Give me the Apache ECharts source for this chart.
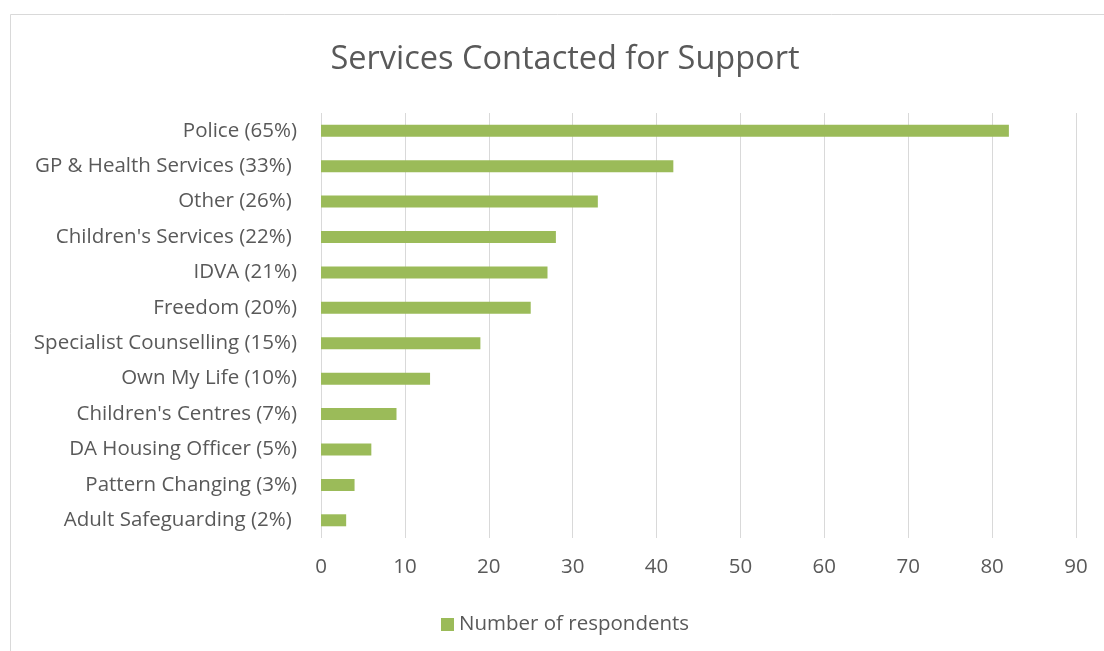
<!DOCTYPE html>
<html>
<head>
<meta charset="utf-8">
<script src="https://cdn.jsdelivr.net/npm/echarts@6/dist/echarts.min.js"></script>
<style>
  html, body { margin: 0; padding: 0; background: #ffffff; }
  #chart { width: 1104px; height: 651px; }
</style>
</head>
<body>
<div id="chart"></div>
<script>
// Services contacted, top to bottom (trailing spaces kept as in the source labels)
const categories = [
  'Police (65%)',
  'GP & Health Services (33%) ',
  'Other (26%) ',
  "Children's Services (22%) ",
  'IDVA (21%)',
  'Freedom (20%)',
  'Specialist Counselling (15%)',
  'Own My Life (10%)',
  "Children's Centres (7%)",
  'DA Housing Officer (5%)',
  'Pattern Changing (3%)',
  'Adult Safeguarding (2%) '
];
const respondents = [82, 42, 33, 28, 27, 25, 19, 13, 9, 6, 4, 3];
const seriesName = 'Number of respondents';
const xTicks = { min: 0, max: 90, interval: 10 };

const textColor = '#595959';
const gridColor = '#d9d9d9';
const fontFamily = '"Open Sans", "DejaVu Sans", sans-serif';
const labelSize = 20.5;

const chart = echarts.init(document.getElementById('chart'));
chart.setOption({
  backgroundColor: '#ffffff',
  animation: false,
  textStyle: { fontFamily: fontFamily },
  graphic: [{
    type: 'rect',
    shape: { x: 10.5, y: 14.5, width: 1200, height: 700 },
    style: { fill: 'none', stroke: gridColor, lineWidth: 1 },
    silent: true
  }],
  title: {
    text: 'Services Contacted for Support',
    left: 560,
    textAlign: 'center',
    top: 38,
    textStyle: { fontSize: 32.5, fontWeight: 'normal', color: textColor, fontFamily: fontFamily }
  },
  legend: {
    data: [seriesName],
    left: 436,
    top: 609,
    itemWidth: 13,
    itemHeight: 13,
    itemGap: 6,
    icon: 'rect',
    textStyle: { fontSize: labelSize, color: textColor, fontFamily: fontFamily }
  },
  grid: { left: 321, right: 28, top: 113, bottom: 113, containLabel: false },
  xAxis: {
    type: 'value',
    min: xTicks.min,
    max: xTicks.max,
    interval: xTicks.interval,
    axisLine: { show: false },
    axisTick: { show: false },
    splitLine: { show: true, lineStyle: { color: gridColor, width: 1 } },
    axisLabel: { fontSize: labelSize, color: textColor, margin: 19, fontFamily: fontFamily }
  },
  yAxis: {
    type: 'category',
    data: categories,
    inverse: true,
    axisLine: { show: false },
    axisTick: { show: false },
    splitLine: { show: false },
    axisLabel: { fontSize: labelSize, color: textColor, margin: 24, fontFamily: fontFamily }
  },
  series: [{
    name: seriesName,
    type: 'bar',
    data: respondents,
    barWidth: 12,
    itemStyle: { color: '#9bbb59' }
  }]
});
</script>
</body>
</html>
